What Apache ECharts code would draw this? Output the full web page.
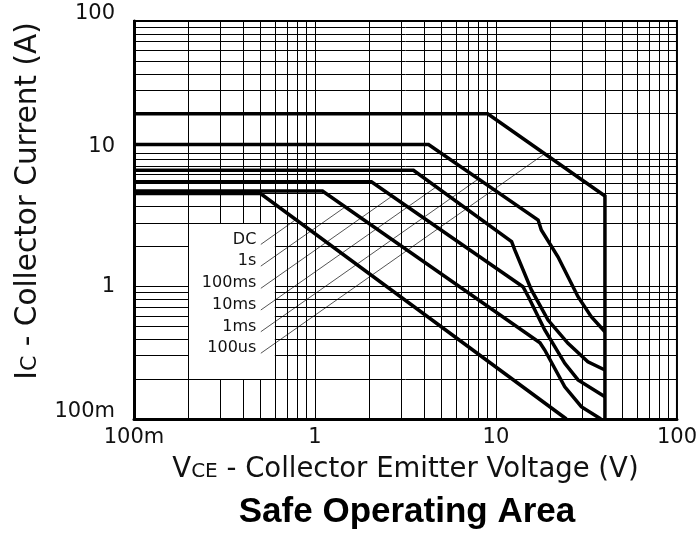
<!DOCTYPE html>
<html>
<head>
<meta charset="utf-8">
<script src="https://cdn.jsdelivr.net/npm/echarts@6/dist/echarts.min.js"></script>
<style>html,body{margin:0;padding:0;background:#fff;}#c{width:700px;height:535px;}</style>
</head>
<body>
<div id="c"></div>
<script>
// ---- data ----
const tickValues = [0.1, 1, 10, 100];
const xTickLabels = ['100m', '1', '10', '100'];
const yTickLabels = ['100m', '1', '10', '100'];
const gridMultiples = [1, 2, 3, 4, 5, 6, 7, 8, 9];
const gridDecades = [0.1, 1, 10];

const curveNames = ['DC', '1s', '100ms', '10ms', '1ms', '100us'];
const curveDC    = [[0.1, 5.0], [0.5, 5.0], [24.5, 0.1]];
const curve1s    = [[0.1, 5.23], [1.1, 5.23], [17.5, 0.376], [18.6, 0.331], [24, 0.175], [29.6, 0.124], [38, 0.1]];
const curve100ms = [[0.1, 6.14], [2.05, 6.14], [14.1, 0.993], [15.1, 0.835], [18.6, 0.469], [24, 0.263], [28.4, 0.197], [40, 0.147]];
const curve10ms  = [[0.1, 7.5], [3.5, 7.5], [12.2, 2.17], [12.7, 1.88], [15.7, 0.94], [19.4, 0.557], [25, 0.372], [32.2, 0.27], [40, 0.234]];
const curve1ms   = [[0.1, 11.7], [4.24, 11.7], [17.1, 3.16], [17.8, 2.66], [22, 1.67], [28.4, 0.835], [33.6, 0.59], [40, 0.455]];
const curve100us = [[0.1, 20], [9, 20], [40, 4.8], [40, 0.1]];

// leader lines: start (at label) and end (on curve)
const leaderStarts = [[0.502, 2.07], [0.502, 1.42], [0.502, 0.966], [0.502, 0.663], [0.502, 0.455], [0.502, 0.313]];
const leaderEnds   = [[0.783, 3.18], [1.466, 3.96], [2.67, 4.79], [4.68, 5.62], [7.99, 6.44], [18.6, 10]];

// white label box (data units) where the grid is cut out
const boxX = [0.2, 0.6];
const boxY = [0.2, 3];

// ---- build ----
const FONT = 'DejaVu Sans';
function lbl(v, labels) {
  for (let i = 0; i < tickValues.length; i++) {
    if (Math.abs(Math.log10(v) - Math.log10(tickValues[i])) < 1e-6) return labels[i];
  }
  return '';
}
const gridVals = [];
gridDecades.forEach(d => gridMultiples.forEach(m => gridVals.push(+(d * m).toPrecision(3))));
gridVals.push(100);
const inner = gridVals.filter(v => v > 0.1 + 1e-9 && v < 100 - 1e-9);
const eps = 1e-9;
const gridLines = [];
inner.forEach(v => {
  if (v > boxX[0] + eps && v < boxX[1] - eps) {
    gridLines.push([{coord: [v, 0.1]}, {coord: [v, boxY[0]]}]);
    gridLines.push([{coord: [v, boxY[1]]}, {coord: [v, 100]}]);
  } else {
    gridLines.push([{coord: [v, 0.1]}, {coord: [v, 100]}]);
  }
  if (v > boxY[0] + eps && v < boxY[1] - eps) {
    gridLines.push([{coord: [0.1, v]}, {coord: [boxX[0], v]}]);
    gridLines.push([{coord: [boxX[1], v]}, {coord: [100, v]}]);
  } else {
    gridLines.push([{coord: [0.1, v]}, {coord: [100, v]}]);
  }
});

const curves = [curveDC, curve1s, curve100ms, curve10ms, curve1ms, curve100us];
const series = [];
series.push({
  type: 'line', data: [], silent: true, z: 1,
  markLine: {
    silent: true, symbol: ['none', 'none'], animation: false,
    label: {show: false},
    lineStyle: {color: '#000', width: 1, type: 'solid'},
    emphasis: {disabled: true},
    data: gridLines
  }
});
curveNames.forEach((n, i) => {
  series.push({
    type: 'line', z: 3, silent: true,
    symbol: 'circle', symbolSize: 1, showSymbol: true,
    itemStyle: {color: 'rgba(0,0,0,0)'},
    lineStyle: {color: '#555', width: 1},
    label: {show: false},
    data: [
      {value: leaderStarts[i], label: {show: true, position: 'left', distance: 4, offset: [0, -5],
        formatter: n, color: '#111', fontFamily: FONT, fontSize: 16}},
      leaderEnds[i]
    ]
  });
});
curves.forEach((c, i) => {
  series.push({
    type: 'line', z: 5, silent: true, symbol: 'none', data: c,
    lineStyle: {color: '#000', width: 3.5, join: 'miter', cap: 'butt'}
  });
});

const chart = echarts.init(document.getElementById('c'), null, {renderer: 'canvas'});
chart.setOption({
  animation: false,
  backgroundColor: '#fff',
  grid: {left: 134, right: 21, top: 21, bottom: 116, show: true, borderColor: '#000', borderWidth: 2, backgroundColor: 'transparent'},
  xAxis: {
    type: 'log', logBase: 10, min: 0.1, max: 100,
    axisLine: {show: true, onZero: false, lineStyle: {color: '#000', width: 3}},
    axisTick: {show: false}, splitLine: {show: false}, minorSplitLine: {show: false},
    axisLabel: {formatter: v => lbl(v, xTickLabels), color: '#111', fontFamily: FONT, fontSize: 21, margin: 8},
    name: '{a|V}{b|CE}{a| - Collector Emitter Voltage (V)}',
    nameLocation: 'middle', nameGap: 33,
    nameTextStyle: {rich: {
      a: {fontFamily: FONT, fontSize: 27.5, color: '#111', verticalAlign: 'bottom', lineHeight: 32},
      b: {fontFamily: FONT, fontSize: 20, color: '#111', verticalAlign: 'bottom', lineHeight: 32, padding: [0, 0, 2, 0]}
    }}
  },
  yAxis: {
    type: 'log', logBase: 10, min: 0.1, max: 100,
    axisLine: {show: true, onZero: false, lineStyle: {color: '#000', width: 3}},
    axisTick: {show: false}, splitLine: {show: false}, minorSplitLine: {show: false},
    axisLabel: {
      formatter: v => { const t = lbl(v, yTickLabels); return t === '1' ? '{n|' + t + '}' : '{s|' + t + '}'; },
      color: '#111', fontFamily: FONT, fontSize: 21, margin: 19,
      rich: {
        s: {fontFamily: FONT, fontSize: 21, color: '#111', padding: [0, 0, 14, 0]},
        n: {fontFamily: FONT, fontSize: 21, color: '#111'}
      }
    },
    name: '{a|I}{b|C}{a| - Collector Current (A)}',
    nameLocation: 'middle', nameGap: 72, nameRotate: 90,
    nameTextStyle: {padding: [0, 0, 0, 38], rich: {
      a: {fontFamily: FONT, fontSize: 29.5, color: '#111', verticalAlign: 'bottom', lineHeight: 34},
      b: {fontFamily: FONT, fontSize: 22, color: '#111', verticalAlign: 'bottom', lineHeight: 34, padding: [0, 0, 2, 0]}
    }}
  },
  graphic: [{
    type: 'text', x: 407, y: 512, silent: true,
    style: {text: 'Safe Operating Area', fontFamily: 'Liberation Sans', fontWeight: 'bold', fontSize: 35,
      fill: '#000', align: 'center', verticalAlign: 'middle'}
  }],
  series: series
});
</script>
</body>
</html>
